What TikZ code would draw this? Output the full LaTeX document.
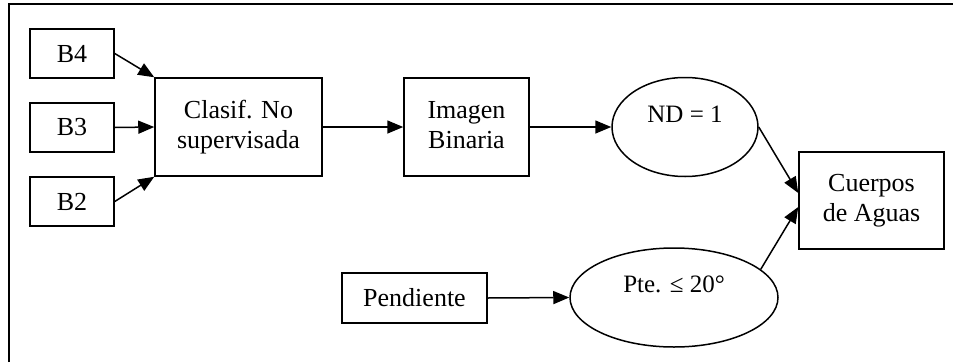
\documentclass[tikz,border=0pt]{standalone}
\usepackage{fontspec}
\setmainfont{Liberation Serif}
\usetikzlibrary{shapes.geometric,arrows.meta,calc}
\tikzset{
  box/.style={draw, line width=1.5pt, rectangle, inner sep=0pt, align=center,
    font=\fontsize{26}{30}\selectfont},
  oval/.style={draw, line width=1.5pt, ellipse, inner sep=0pt, align=center,
    font=\fontsize{25}{29}\selectfont, text depth=26pt},
  arr/.style={line width=1.5pt, -{Triangle[length=16pt,width=13pt]}},
  frame/.style={line width=1.7pt}
}
\newcommand{\twolines}[2]{\raisebox{5pt}{\begin{tabular}{@{}c@{}}#1\\#2\end{tabular}}}
\begin{document}
\begin{tikzpicture}[x=1pt,y=-1pt]
\useasboundingbox (0,0) rectangle (953,362);
\draw[frame] (9,362) -- (9,4) -- (953,4);
\node[box, minimum width=84pt, minimum height=49pt] (b4) at (72,53.5) {B4};
\node[box, minimum width=84pt, minimum height=49pt] (b3) at (72,127.5) {B3};
\node[box, minimum width=84pt, minimum height=49pt] (b2) at (72,201.5) {B2};
\node[box, minimum width=167pt, minimum height=98pt] (clasif) at (238.5,127) {\twolines{Clasif. No}{supervisada}};
\node[box, minimum width=125pt, minimum height=98pt] (imagen) at (466.5,127) {\twolines{Imagen}{Binaria}};
\node[oval, minimum width=146pt, minimum height=99pt] (nd) at (685,127) {ND = 1};
\node[box, minimum width=145pt, minimum height=97pt] (cuerpos) at (871.5,200.5) {\twolines{Cuerpos}{de Aguas}};
\node[box, minimum width=145pt, minimum height=50pt] (pend) at (414.5,298) {Pendiente};
\node[oval, minimum width=208pt, minimum height=99pt] (pte) at (674,297.5) {Pte. ≤ 20°};
\coordinate (c1) at ($(cuerpos.west)+(0,-7.5)$);
\coordinate (c2) at ($(cuerpos.west)+(0,6.5)$);
\draw[arr] (b4.east) -- (clasif.north west);
\draw[arr] (b3.east) -- (clasif.west);
\draw[arr] (b2.east) -- (clasif.south west);
\draw[arr] (clasif.east) -- (imagen.west);
\draw[arr] (imagen.east) -- (nd.west);
\draw[arr] (nd.east) -- (c1);
\draw[arr] (pte.18) -- (c2);
\draw[arr] (pend.east) -- (pte.west);
\end{tikzpicture}
\end{document}
